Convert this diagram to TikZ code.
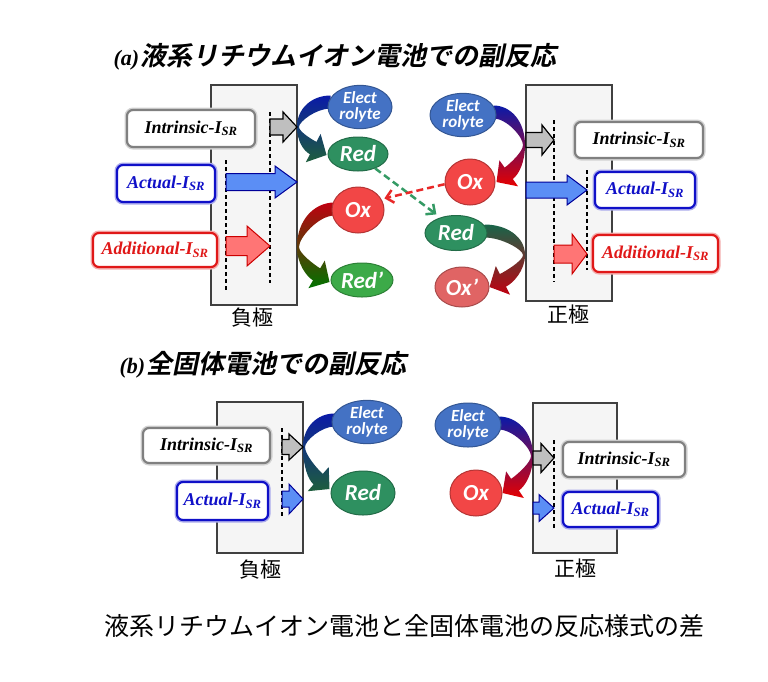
\documentclass[tikz,border=0pt]{standalone}
\usepackage{fontspec}
\setmainfont{Liberation Serif}
\newfontfamily\jpfont{Noto Sans CJK JP}
\newfontfamily\jptitle{Noto Sans CJK JP}[UprightFont=* Bold, FakeSlant=0.2]
\newfontfamily\calib{Carlito}
\usetikzlibrary{calc,shapes.geometric,arrows.meta}

\definecolor{elblue}{HTML}{4472C4}
\definecolor{redgrn}{HTML}{2E9060}
\definecolor{redpgrn}{HTML}{3CAA48}
\definecolor{oxred}{HTML}{F24646}
\definecolor{oxpred}{HTML}{E06464}
\definecolor{intgray}{HTML}{808080}
\definecolor{actblue}{HTML}{1010C8}
\definecolor{addred}{HTML}{E01818}
\definecolor{arrblue}{HTML}{5B8EF5}
\definecolor{arrred}{HTML}{FF7575}
\definecolor{dkblue}{HTML}{0A1AA8}
\definecolor{dkgreen}{HTML}{1E5E3C}
\definecolor{dkred}{HTML}{C00010}
\definecolor{dgreen}{HTML}{349A64}
\definecolor{dred}{HTML}{E82828}

\pgfdeclarelayer{back}
\pgfdeclarelayer{mid}
\pgfsetlayers{back,mid,main}

% block arrow: style, x0, x1, y, shaft half, head half, head length
\newcommand\blockarrow[7]{%
  \draw[#1] (#2,#4-#5) -- (#3-#7,#4-#5) -- (#3-#7,#4-#6) -- (#3,#4)
    -- (#3-#7,#4+#6) -- (#3-#7,#4+#5) -- (#2,#4+#5) -- cycle;}

% curved ribbon: pinch, start, tip, top colour, bottom colour, inner side
\newcommand\ribbon[6]{%
  \coordinate (rP) at (#1);
  \coordinate (rS) at (#2);
  \coordinate (rT) at (#3);
  \coordinate (rSo) at ($(rS)+(0,-6.5)$);
  \coordinate (rSi) at ($(rS)+(0,6.5)$);
  \coordinate (rPi) at ($(rP)!2pt!(rS|-rP)$);
  \coordinate (rQ) at ($(rP)!0.45!(rP|-rT)$);
  \coordinate (rC) at ($(rT)!15pt!(rQ)$);
  \coordinate (rBi) at ($(rC)!7pt!#6:(rT)$);
  \coordinate (rWi) at ($(rC)!16pt!#6:(rT)$);
  \coordinate (rBo) at ($(rC)!-7pt!#6:(rT)$);
  \coordinate (rWo) at ($(rC)!-16pt!#6:(rT)$);
  \shade[top color=#4, bottom color=#5]
    (rSo) .. controls ($(rSo)!0.55!(rP|-rSo)$) and ($(rP)!0.6!(rP|-rSo)$) .. (rP)
    .. controls ($(rP)!0.5!(rP|-rBo)$) and ($(rBo)+0.5*(rC)-0.5*(rT)$) .. (rBo)
    -- (rWo) -- (rT) -- (rWi) -- (rBi)
    .. controls ($(rBi)+0.4*(rC)-0.4*(rT)$) and ($(rPi)!0.3!(rPi|-rBi)$) .. (rPi)
    .. controls ($(rPi)!0.3!(rPi|-rSi)$) and ($(rSi)!0.45!(rPi|-rSi)$) .. (rSi) -- cycle;}

\tikzset{
  electrode/.style={draw=black!75, line width=1.2pt, fill=black!4},
  elabel/.style={font=\jpfont\fontsize{21}{22}\selectfont},
  lbox/.style={rounded corners=6pt, line width=2.2pt, fill=white, draw=#1,
    preaction={draw=#1!35, line width=5pt}, inner sep=0pt,
    font=\bfseries\itshape\fontsize{18}{20}\selectfont},
  blob/.style={ellipse, draw=#1!75!black, line width=1pt, fill=#1, text=white,
    inner sep=0pt, font=\calib\bfseries\itshape\fontsize{23}{23}\selectfont},
  elyte/.style={blob=elblue, align=center,
    font=\calib\bfseries\itshape\fontsize{17}{16}\selectfont},
  garrow/.style={draw=black, line width=1.2pt, fill=black!25},
  barrow/.style={draw=blue!60!black, line width=1pt, fill=arrblue},
  rarrow/.style={draw=red!80!black, line width=1pt, fill=arrred},
  dline/.style={black, line width=1.3pt, dash pattern=on 4pt off 3pt},
  gdash/.style={dgreen, line width=2.5pt, dash pattern=on 7pt off 4pt,
    -{Straight Barb[length=7pt,width=13pt]}},
  rdash/.style={dred, line width=2.5pt, dash pattern=on 7pt off 4pt,
    -{Straight Barb[length=7pt,width=13pt]}},
}

\begin{document}
\begin{tikzpicture}[x=1pt,y=-1pt]
\useasboundingbox (0,0) rectangle (768,681);
\begin{pgfonlayer}{back}
  \fill[white] (0,0) rectangle (768,681);
\end{pgfonlayer}

% titles
\node[anchor=west] (titleA) at (110,57) {{\fontsize{22}{24}\selectfont\bfseries\itshape (a)}\,{\jptitle\fontsize{26}{27}\selectfont 液系リチウムイオン電池での副反応}};
\node[anchor=west] (titleB) at (116,365) {{\fontsize{22}{24}\selectfont\bfseries\itshape (b)}\,{\jptitle\fontsize{26}{27}\selectfont 全固体電池での副反応}};
\node (cap) at (404,626) {\jpfont\fontsize{25}{28}\selectfont 液系リチウムイオン電池と全固体電池の反応様式の差};

% electrodes
\begin{pgfonlayer}{back}
  \node[electrode, minimum width=86pt, minimum height=220pt] (negA) at (254,195) {};
  \node[electrode, minimum width=86pt, minimum height=216pt] (posA) at (569,193) {};
  \node[electrode, minimum width=86pt, minimum height=151pt] (negB) at (260,477.5) {};
  \node[electrode, minimum width=84pt, minimum height=150pt] (posB) at (575,478) {};
\end{pgfonlayer}
\node[elabel] (negAl) at (252,318) {負極};
\node[elabel] (posAl) at (568,315) {正極};
\node[elabel] (negBl) at (260,570) {負極};
\node[elabel] (posBl) at (575,568) {正極};

% dashed lines in the electrodes
\draw[dline] (270,112) -- (270,283);
\draw[dline] (226,160) -- (226,290);
\draw[dline] (554,120) -- (554,282);
\draw[dline] (587,170) -- (587,270);
\draw[dline] (282,428) -- (282,518);
\draw[dline] (554,440) -- (554,530);

% current arrows
\blockarrow{garrow}{270}{297}{127}{8}{15}{14}
\blockarrow{barrow}{226}{297}{182}{8.5}{16}{22}
\blockarrow{rarrow}{226}{270}{246}{9.5}{20}{23}
\blockarrow{garrow}{526}{554}{140}{7.5}{15}{12}
\blockarrow{barrow}{526}{587}{190}{8}{15}{20}
\blockarrow{rarrow}{554}{587}{254}{9}{20}{15}
\blockarrow{garrow}{282}{303}{447}{7.5}{13}{14}
\blockarrow{barrow}{282}{303}{499}{8}{15}{14}
\blockarrow{garrow}{533}{554}{458}{7}{14.5}{13}
\blockarrow{barrow}{533}{554}{508}{6}{13.5}{15}

% current labels
\node[lbox=intgray, minimum width=128pt, minimum height=37pt] (intrA) at (191,128.5) {Intrinsic-I\textsubscript{SR}};
\node[lbox=actblue, text=actblue, minimum width=98pt, minimum height=37pt] (actA) at (166,183.5) {Actual-I\textsubscript{SR}};
\node[lbox=addred, text=addred, minimum width=124pt, minimum height=34pt] (addA) at (155,250) {Additional-I\textsubscript{SR}};
\node[lbox=intgray, minimum width=128pt, minimum height=36pt] (intrAr) at (639,140) {Intrinsic-I\textsubscript{SR}};
\node[lbox=actblue, text=actblue, minimum width=100pt, minimum height=36pt] (actAr) at (645,190) {Actual-I\textsubscript{SR}};
\node[lbox=addred, text=addred, minimum width=125pt, minimum height=37pt] (addAr) at (655.5,253.5) {Additional-I\textsubscript{SR}};
\node[lbox=intgray, minimum width=127pt, minimum height=35pt] (intrB) at (206.5,445.5) {Intrinsic-I\textsubscript{SR}};
\node[lbox=actblue, text=actblue, minimum width=91pt, minimum height=38pt] (actB) at (222.5,501) {Actual-I\textsubscript{SR}};
\node[lbox=intgray, minimum width=122pt, minimum height=35pt] (intrBr) at (624,459.5) {Intrinsic-I\textsubscript{SR}};
\node[lbox=actblue, text=actblue, minimum width=95pt, minimum height=35pt] (actBr) at (610.5,509.5) {Actual-I\textsubscript{SR}};

% species
\node[elyte, minimum width=64pt, minimum height=40pt] (elA) at (360,107) {Elect\\rolyte};
\node[blob=redgrn, minimum width=60pt, minimum height=34pt] (redA) at (358,154) {Red};
\node[blob=oxred, minimum width=52pt, minimum height=46pt] (oxA) at (358,210) {Ox};
\node[blob=redpgrn, minimum width=62pt, minimum height=34pt] (redpA) at (362,280) {Red’};
\node[elyte, minimum width=66pt, minimum height=38pt] (elAr) at (463,115) {Elect\\rolyte};
\node[blob=oxred, minimum width=50pt, minimum height=46pt] (oxAr) at (470,182) {Ox};
\node[blob=redgrn, minimum width=62pt, minimum height=35pt] (redAr) at (456,233) {Red};
\node[blob=oxpred, minimum width=54pt, minimum height=40pt] (oxpAr) at (462,287) {Ox’};
\node[elyte, minimum width=70pt, minimum height=38pt] (elB) at (367,422) {Elect\\rolyte};
\node[blob=redgrn, minimum width=64pt, minimum height=44pt] (redB) at (363,493) {Red};
\node[elyte, minimum width=66pt, minimum height=44pt] (elBr) at (468,425) {Elect\\rolyte};
\node[blob=oxred, minimum width=52pt, minimum height=46pt] (oxBr) at (476,493) {Ox};

% reactions at the surfaces
\coordinate (pA1) at (297,127);
\coordinate (pA2) at (297,247);
\coordinate (pA3) at (525,145);
\coordinate (pA4) at (525,255);
\coordinate (pB1) at (303,447);
\coordinate (pB2) at (533,456);
\begin{pgfonlayer}{mid}
  \ribbon{pA1}{$(elA.west)+(3,-5)$}{$(redA.west)+(-1,1)$}{dkblue}{dkgreen}{90}
  \ribbon{pA2}{$(oxA.west)+(3,-1)$}{$(redpA.west)+(-1,2)$}{dkred}{green!45!black}{90}
  \ribbon{pA3}{$(elAr.east)+(-3,-3)$}{$(oxAr.east)+(1,0)$}{dkblue}{red!90!black}{-90}
  \ribbon{pA4}{$(redAr.east)+(-3,-2)$}{$(oxpAr.east)+(0,0)$}{dkgreen!80!teal}{dkred}{-90}
  \ribbon{pB1}{$(elB.west)+(3,-2)$}{$(redB.west)+(-1,-4)$}{dkblue}{dkgreen}{90}
  \ribbon{pB2}{$(elBr.east)+(-3,-2)$}{$(oxBr.east)+(0,0)$}{dkblue}{red!90!black}{-90}
\end{pgfonlayer}

% transfer between the electrodes
\draw[gdash, shorten >=5pt] (redA.-40) -- (redAr.135);
\draw[rdash, shorten >=3pt] (oxAr.185) -- (oxA.25);
\end{tikzpicture}
\end{document}
